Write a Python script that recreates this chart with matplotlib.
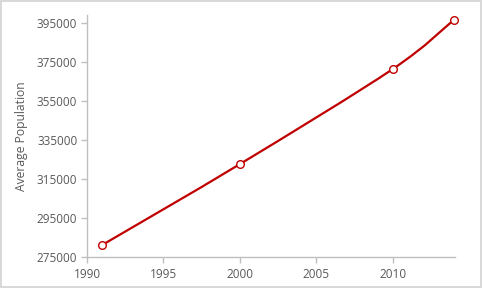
import matplotlib
matplotlib.use("Agg")
import matplotlib.pyplot as plt
from matplotlib.path import Path
from matplotlib.patches import PathPatch
import numpy as np

years = [1991, 2000, 2010, 2014]
population = [281200, 322600, 371300, 396500]
yticks = [275000, 295000, 315000, 335000, 355000, 375000, 395000]
xticks = [1990, 1995, 2000, 2005, 2010]

red = "#C00000"
gray = "#595959"
axis_gray = "#BFBFBF"

fig = plt.figure(figsize=(4.82, 2.88), dpi=100)
fig.patch.set_edgecolor("#D9D9D9")
fig.patch.set_linewidth(1.5)
ax = fig.add_axes([0.1805, 0.1076, 0.764, 0.840])

# smooth curve via Catmull-Rom -> Bezier in data coordinates
x = np.array(years, float)
y = np.array(population, float)
verts = [(x[0], y[0])]
codes = [Path.MOVETO]
n = len(x)
for i in range(n - 1):
    p0 = (x[i - 1], y[i - 1]) if i > 0 else (x[i], y[i])
    p1 = (x[i], y[i])
    p2 = (x[i + 1], y[i + 1])
    p3 = (x[i + 2], y[i + 2]) if i + 2 < n else (x[i + 1], y[i + 1])
    t = 1 / 6
    c1 = (p1[0] + (p2[0] - p0[0]) * t, p1[1] + (p2[1] - p0[1]) * t)
    c2 = (p2[0] - (p3[0] - p1[0]) * t, p2[1] - (p3[1] - p1[1]) * t)
    verts += [c1, c2, p2]
    codes += [Path.CURVE4] * 3
ax.add_patch(PathPatch(Path(verts, codes), facecolor="none", edgecolor=red, lw=1.6, zorder=2))
ax.plot(years, population, linestyle="none", marker="o", markersize=5.5,
        markerfacecolor="white", markeredgecolor=red, markeredgewidth=1.0, zorder=3, clip_on=False)

ax.set_xlim(1990, 2014.1)
ax.set_ylim(275000, 399000)
ax.set_xticks(xticks)
ax.set_yticks(yticks)
ax.set_xticklabels([str(v) for v in xticks])
ax.set_yticklabels([str(v) for v in yticks])

for s in ["top", "right"]:
    ax.spines[s].set_visible(False)
for s in ["left", "bottom"]:
    ax.spines[s].set_color(axis_gray)
    ax.spines[s].set_linewidth(1.0)
ax.tick_params(axis="both", colors=axis_gray, length=4, width=1.0, labelcolor=gray, labelsize=8.5)
ax.tick_params(axis="y", pad=3)
ax.tick_params(axis="x", pad=4)
for lbl in ax.get_yticklabels() + ax.get_xticklabels():
    lbl.set_family("Open Sans")
ax.set_ylabel("Average Population", color=gray, fontsize=8.7, family="Open Sans", labelpad=6)

fig.savefig("out.png", dpi=100)
